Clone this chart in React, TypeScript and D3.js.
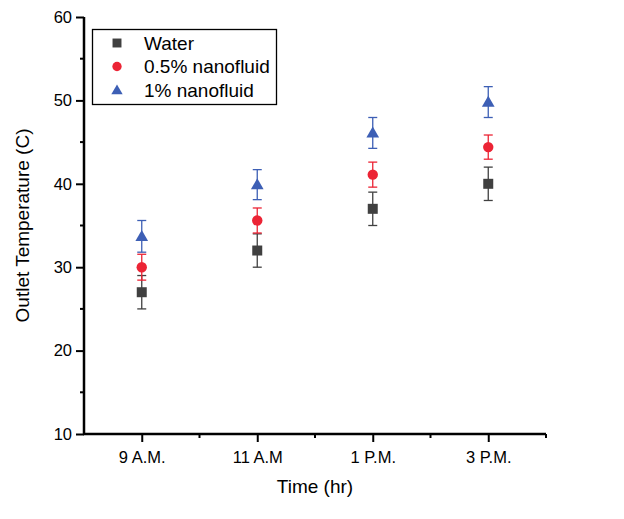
import { useEffect, useRef } from 'react';
import * as d3 from 'd3';

const categories = ['9 A.M.', '11 A.M', '1 P.M.', '3 P.M.'];

const waterValues = [27, 32, 37, 40];
const waterErrors = [2, 2, 2, 2];
const nano05Values = [30, 35.6, 41.1, 44.4];
const nano05Errors = [1.55, 1.5, 1.5, 1.45];
const nano1Values = [33.7, 39.9, 46.1, 49.8];
const nano1Errors = [1.9, 1.8, 1.85, 1.85];

const yTicks = [10, 20, 30, 40, 50, 60];
const yMinorTicks = [15, 25, 35, 45, 55];

type Series = {
  name: string;
  values: number[];
  errors: number[];
  color: string;
  shape: 'square' | 'circle' | 'triangle';
};

const series: Series[] = [
  { name: 'Water', values: waterValues, errors: waterErrors, color: '#404040', shape: 'square' },
  { name: '0.5% nanofluid', values: nano05Values, errors: nano05Errors, color: '#ec2435', shape: 'circle' },
  { name: '1% nanofluid', values: nano1Values, errors: nano1Errors, color: '#3d5fb5', shape: 'triangle' },
];

const symbolFor = (shape: Series['shape']) =>
  shape === 'square' ? d3.symbolSquare : shape === 'circle' ? d3.symbolCircle : d3.symbolTriangle;

const sizeFor = (shape: Series['shape']) => (shape === 'square' ? 100 : shape === 'circle' ? 85 : 70);

export default function App() {
  const ref = useRef<SVGSVGElement>(null);

  useEffect(() => {
    if (!ref.current) return;
    const svg = d3.select(ref.current);
    svg.selectAll('*').remove();

    const width = 624;
    const height = 519;
    const left = 84;
    const right = 546;
    const top = 17;
    const bottom = 434;
    const font = '"Liberation Sans", Arial, sans-serif';

    svg.attr('width', width).attr('height', height);

    const x = d3.scaleLinear().domain([0.5, 4.5]).range([left, right]);
    const y = d3.scaleLinear().domain([10, 60]).range([bottom, top]);

    // y axis
    const yAxis = svg.append('g').attr('transform', `translate(${left},0)`);
    yAxis
      .call(d3.axisLeft(y).tickValues(yTicks).tickSize(8).tickPadding(4).tickFormat(d3.format('d')))
      .call((g) => g.select('.domain').remove());
    yAxis.selectAll('.tick line').attr('stroke', '#000').attr('stroke-width', 2);
    yAxis.selectAll('.tick text').attr('font-size', 16.5).attr('font-family', font).attr('fill', '#000');
    yAxis
      .selectAll('.minor')
      .data(yMinorTicks)
      .enter()
      .append('line')
      .attr('x1', -4)
      .attr('x2', 0)
      .attr('y1', (d) => y(d))
      .attr('y2', (d) => y(d))
      .attr('stroke', '#000')
      .attr('stroke-width', 2);

    // x axis
    const xAxis = svg.append('g').attr('transform', `translate(0,${bottom})`);
    xAxis
      .call(
        d3
          .axisBottom(x)
          .tickValues([1, 2, 3, 4])
          .tickSize(8)
          .tickPadding(9)
          .tickFormat((d) => categories[(d as number) - 1])
      )
      .call((g) => g.select('.domain').remove());
    xAxis.selectAll('.tick line').attr('stroke', '#000').attr('stroke-width', 2);
    xAxis.selectAll('.tick text').attr('font-size', 16.5).attr('font-family', font).attr('fill', '#000');
    xAxis
      .selectAll('.minor')
      .data([1.5, 2.5, 3.5, 4.5])
      .enter()
      .append('line')
      .attr('x1', (d) => x(d))
      .attr('x2', (d) => x(d))
      .attr('y1', 0)
      .attr('y2', 4)
      .attr('stroke', '#000')
      .attr('stroke-width', 2);

    // axis lines
    svg
      .append('line')
      .attr('x1', left)
      .attr('x2', left)
      .attr('y1', top)
      .attr('y2', bottom + 1)
      .attr('stroke', '#000')
      .attr('stroke-width', 2.5);
    svg
      .append('line')
      .attr('x1', left - 1)
      .attr('x2', right)
      .attr('y1', bottom)
      .attr('y2', bottom)
      .attr('stroke', '#000')
      .attr('stroke-width', 2.5);

    // axis titles
    svg
      .append('text')
      .attr('x', (left + right) / 2)
      .attr('y', 493)
      .attr('text-anchor', 'middle')
      .attr('font-size', 19)
      .attr('font-family', font)
      .text('Time (hr)');
    svg
      .append('text')
      .attr('transform', `translate(29,${(top + bottom) / 2}) rotate(-90)`)
      .attr('text-anchor', 'middle')
      .attr('font-size', 19)
      .attr('font-family', font)
      .text('Outlet Temperature (C)');

    // error bars and markers
    series.forEach((s) => {
      const g = svg.append('g');
      s.values.forEach((v, i) => {
        const cx = x(i + 1);
        const lo = y(v - s.errors[i]);
        const hi = y(v + s.errors[i]);
        g.append('line').attr('x1', cx).attr('x2', cx).attr('y1', lo).attr('y2', hi).attr('stroke', s.color).attr('stroke-width', 1.3);
        [lo, hi].forEach((yy) =>
          g.append('line').attr('x1', cx - 4.5).attr('x2', cx + 4.5).attr('y1', yy).attr('y2', yy).attr('stroke', s.color).attr('stroke-width', 1.3)
        );
      });
      g.selectAll('path')
        .data(s.values)
        .enter()
        .append('path')
        .attr('d', d3.symbol(symbolFor(s.shape), sizeFor(s.shape))()!)
        .attr('transform', (v, i) => `translate(${x(i + 1)},${y(v) + (s.shape === 'triangle' ? 1 : 0)})`)
        .attr('fill', s.color);
    });

    // legend
    const legend = svg.append('g');
    legend
      .append('rect')
      .attr('x', 92.5)
      .attr('y', 29.5)
      .attr('width', 184)
      .attr('height', 75)
      .attr('fill', '#fff')
      .attr('stroke', '#000')
      .attr('stroke-width', 1.3);
    series.forEach((s, i) => {
      const ly = 43 + i * 23.5;
      legend
        .append('path')
        .attr('d', d3.symbol(symbolFor(s.shape), sizeFor(s.shape) * 0.8)()!)
        .attr('transform', `translate(117,${ly + (s.shape === 'triangle' ? 1 : 0)})`)
        .attr('fill', s.color);
      legend
        .append('text')
        .attr('x', 144)
        .attr('y', ly)
        .attr('dy', '0.36em')
        .attr('font-size', 19)
        .attr('font-family', font)
        .text(s.name);
    });
  }, []);

  return <svg ref={ref} style={{ position: 'absolute', left: 0, top: 0 }} />;
}
